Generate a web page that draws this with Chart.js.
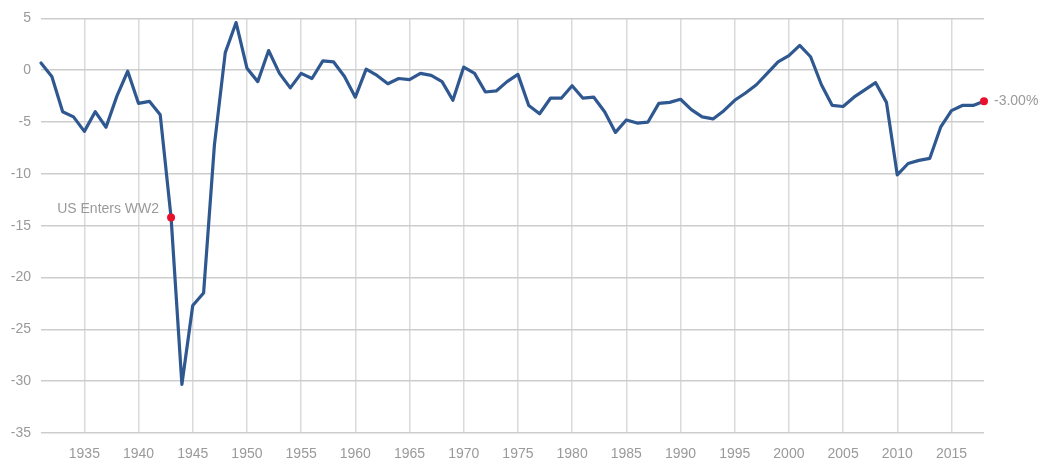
<!DOCTYPE html>
<html>
<head>
<meta charset="utf-8">
<script src="https://cdn.jsdelivr.net/npm/chart.js@4.4.1/dist/chart.umd.min.js"></script>
<style>
  html, body { margin: 0; padding: 0; background: #fff; }
  #wrap { width: 1039px; height: 461px; }
</style>
</head>
<body>
<div id="wrap"><canvas id="chart" width="1039" height="461"></canvas></div>
<script>
// Budget balance (% of GDP), one value per year
const years = [
  1931, 1932, 1933, 1934, 1935, 1936, 1937, 1938, 1939, 1940,
  1941, 1942, 1943, 1944, 1945, 1946, 1947, 1948, 1949, 1950,
  1951, 1952, 1953, 1954, 1955, 1956, 1957, 1958, 1959, 1960,
  1961, 1962, 1963, 1964, 1965, 1966, 1967, 1968, 1969, 1970,
  1971, 1972, 1973, 1974, 1975, 1976, 1977, 1978, 1979, 1980,
  1981, 1982, 1983, 1984, 1985, 1986, 1987, 1988, 1989, 1990,
  1991, 1992, 1993, 1994, 1995, 1996, 1997, 1998, 1999, 2000,
  2001, 2002, 2003, 2004, 2005, 2006, 2007, 2008, 2009, 2010,
  2011, 2012, 2013, 2014, 2015, 2016, 2017, 2018
];
const balance = [
  0.7, -0.6, -4.0, -4.5, -5.9, -4.0, -5.5, -2.5, -0.1, -3.2,
  -3.0, -4.3, -14.2, -30.3, -22.7, -21.5, -7.2, 1.7, 4.6, 0.2,
  -1.1, 1.9, -0.3, -1.7, -0.3, -0.8, 0.9, 0.8, -0.6, -2.6,
  0.1, -0.5, -1.3, -0.8, -0.9, -0.3, -0.5, -1.1, -2.9, 0.3,
  -0.3, -2.1, -2.0, -1.1, -0.4, -3.4, -4.2, -2.7, -2.7, -1.5,
  -2.7, -2.6, -4.0, -6.0, -4.8, -5.1, -5.0, -3.2, -3.1, -2.8,
  -3.8, -4.5, -4.7, -3.9, -2.9, -2.2, -1.4, -0.3, 0.8, 1.4,
  2.4, 1.3, -1.4, -3.4, -3.5, -2.6, -1.9, -1.2, -3.1, -10.1,
  -9.0, -8.7, -8.5, -5.5, -3.9, -3.4, -3.4, -3.0
];
const xTicks = [1935, 1940, 1945, 1950, 1955, 1960, 1965, 1970, 1975, 1980,
                1985, 1990, 1995, 2000, 2005, 2010, 2015];
const yTicks = [5, 0, -5, -10, -15, -20, -25, -30, -35];

// highlighted points and their captions
const markYears = [1943, 2018];
const markLabels = ['US Enters WW2', '-3.00%'];

const FONT = "'Liberation Sans', Arial, sans-serif";
const TEXT_GRAY = '#9a9a9a';

const points = years.map((y, i) => ({ x: y, y: balance[i] }));
const markPoints = markYears.map((y) => ({ x: y, y: balance[years.indexOf(y)] }));

// draws the two captions next to the red markers
const markCaptions = {
  id: 'markCaptions',
  afterDatasetsDraw(chart) {
    const { ctx, scales } = chart;
    ctx.save();
    ctx.font = '14px ' + FONT;
    ctx.fillStyle = TEXT_GRAY;
    ctx.textBaseline = 'middle';
    markPoints.forEach((p, i) => {
      const px = scales.x.getPixelForValue(p.x);
      const py = scales.y.getPixelForValue(p.y);
      if (i === 0) {
        ctx.textAlign = 'right';
        ctx.fillText(markLabels[i], px - 12, py - 8);
      } else {
        ctx.textAlign = 'left';
        ctx.fillText(markLabels[i], px + 10, py);
      }
    });
    ctx.restore();
  }
};

new Chart(document.getElementById('chart').getContext('2d'), {
  type: 'line',
  data: {
    datasets: [
      {
        data: markPoints,
        showLine: false,
        pointRadius: 4,
        pointBackgroundColor: '#e8102c',
        pointBorderWidth: 0,
        clip: false,
        order: 0
      },
      {
        data: points,
        borderColor: '#2f5890',
        borderWidth: 3.2,
        borderJoinStyle: 'round',
        borderCapStyle: 'round',
        pointRadius: 0,
        tension: 0,
        fill: false,
        clip: false,
        order: 1
      }
    ]
  },
  options: {
    responsive: false,
    animation: false,
    layout: { padding: { top: 16, right: 55, left: 0, bottom: 0 } },
    plugins: {
      legend: { display: false },
      tooltip: { enabled: false }
    },
    scales: {
      x: {
        type: 'linear',
        min: years[0],
        max: years[years.length - 1],
        afterBuildTicks: (axis) => { axis.ticks = xTicks.map((v) => ({ value: v })); },
        afterFit: (axis) => { axis.height = 28; },
        grid: { color: '#dadada', lineWidth: 1.5, drawTicks: false },
        border: { display: false },
        ticks: {
          padding: 13,
          color: TEXT_GRAY,
          font: { family: FONT, size: 14 },
          maxRotation: 0,
          autoSkip: false,
          callback: (v) => String(v)
        }
      },
      y: {
        min: yTicks[yTicks.length - 1],
        max: yTicks[0],
        afterBuildTicks: (axis) => { axis.ticks = yTicks.map((v) => ({ value: v })); },
        afterFit: (axis) => { axis.width = 41; },
        grid: { color: '#cdcdcd', lineWidth: 1.5, drawTicks: false },
        border: { display: false },
        ticks: {
          padding: 10,
          color: TEXT_GRAY,
          font: { family: FONT, size: 14 },
          callback: (v) => String(v)
        }
      }
    }
  },
  plugins: [markCaptions]
});
</script>
</body>
</html>
